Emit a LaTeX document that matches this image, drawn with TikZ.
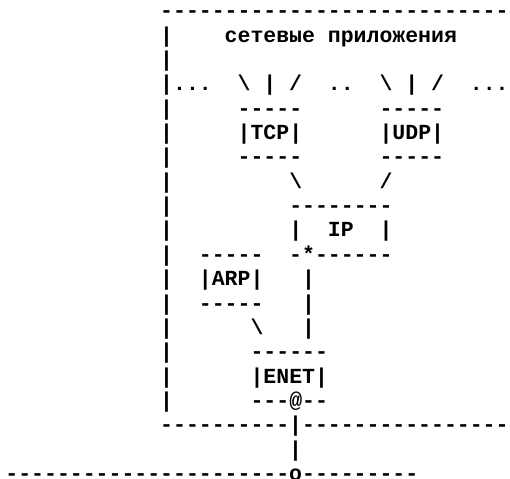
\documentclass[tikz,border=0pt]{standalone}
\usepackage{fontspec}
\setmonofont{Liberation Mono}
\usepackage{tikz}
\usetikzlibrary{positioning}
\tikzset{
	asciirow/.style={anchor=base west, inner sep=0pt, outer sep=0pt,
		font=\ttfamily\bfseries\fontsize{16.125}{18}\selectfont}
}
\newcommand{\bsl}{\textbackslash}
\begin{document}
\begin{tikzpicture}[x=9.675pt, y=-18.2775pt]
      \useasboundingbox (-0.4225,0.276) rectangle (39.113,19.931);
      % one node per text row, x = column, y = row
      \node[asciirow] (row1) at (12,1) {------------------------------};
      \node[asciirow] (row2) at (12,2) {|~~~~сетевые~приложения};
      \node[asciirow] (row3) at (12,3) {|};
      \node[asciirow] (row4) at (12,4) {|...~~\bsl{}~|~/~~..~~\bsl{}~|~/~~...};
      \node[asciirow] (row5) at (12,5) {|~~~~~-----~~~~~~-----};
      \node[asciirow] (row6) at (12,6) {|~~~~~|TCP|~~~~~~|UDP|};
      \node[asciirow] (row7) at (12,7) {|~~~~~-----~~~~~~-----};
      \node[asciirow] (row8) at (12,8) {|~~~~~~~~~\bsl{}~~~~~~/};
      \node[asciirow] (row9) at (12,9) {|~~~~~~~~~--------};
      \node[asciirow] (row10) at (12,10) {|~~~~~~~~~|~~IP~~|};
      \node[asciirow] (row11) at (12,11) {|~~-----~~-*------};
      \node[asciirow] (row12) at (12,12) {|~~|ARP|~~~|};
      \node[asciirow] (row13) at (12,13) {|~~-----~~~|};
      \node[asciirow] (row14) at (12,14) {|~~~~~~\bsl{}~~~|};
      \node[asciirow] (row15) at (12,15) {|~~~~~~------};
      \node[asciirow] (row16) at (12,16) {|~~~~~~|ENET|};
      \node[asciirow] (row17) at (12,17) {|~~~~~~---@--};
      \node[asciirow] (row18) at (12,18) {----------|-------------------};
      \node[asciirow] (row19) at (22,19) {|};
      \node[asciirow] (row20) at (0,20) {----------------------o---------};
\end{tikzpicture}
\end{document}
